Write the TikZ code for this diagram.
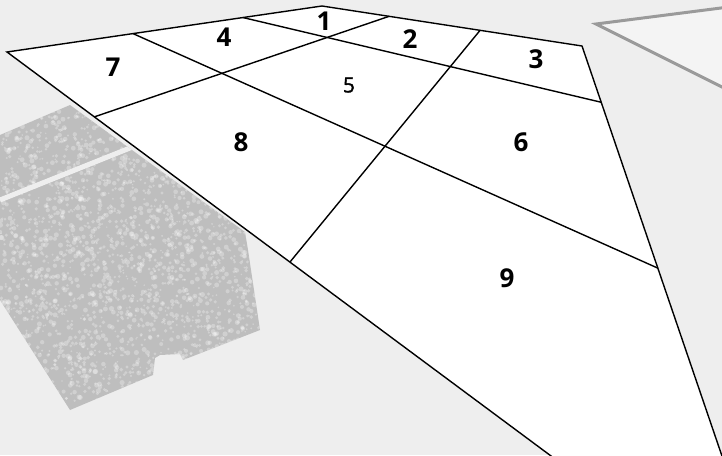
\documentclass[tikz,border=0pt]{standalone}
\usepackage{fontspec}
\setmainfont{Open Sans}
\newfontfamily\midfont[FakeBold=1.5]{Open Sans}
\usetikzlibrary{calc}
\definecolor{bgcolor}{HTML}{EEEEEE}
\definecolor{blobgray}{HTML}{BEBEBE}
\definecolor{rimgray}{HTML}{9A9A9A}
\definecolor{paleface}{HTML}{F4F4F4}
\tikzset{
  grid line/.style={line width=1.4pt, draw=black},
  cell label/.style={font=\bfseries\fontsize{26}{26}\selectfont, inner sep=0pt},
  small label/.style={font=\midfont\fontsize{21}{21}\selectfont, inner sep=0pt},
  speck/.style={fill=white, opacity=0.28},
}

\begin{document}
\begin{tikzpicture}[x=1pt,y=-1pt]
  % Background
  \fill[bgcolor] (0,0) rectangle (722,455);
  \useasboundingbox (0,0) rectangle (722,455);
  \clip (0,0) rectangle (722,455);

  % Pale plane at top right
  \fill[paleface] (596,24) -- (760,3) -- (760,106) -- cycle;
  \draw[rimgray, line width=3pt, line join=miter] (760,3) -- (596,24) -- (760,106);

  % Textured block at left
  \begin{scope}
    \clip (0,135) -- (70,105) -- (245,232) -- (248,250) -- (260,330) -- (183,360)
      -- (180,354) -- (160,355) -- (155,358) -- (153,375) -- (70,410) -- (0,300) -- cycle;
    \fill[blobgray] (0,100) rectangle (270,415);
    \pgfmathsetseed{7}
    \foreach \i in {1,...,3000} {
      \pgfmathsetmacro{\r}{0.8+1.8*rnd}
      \fill[speck] (130+130*rand, 260+155*rand) circle[radius=\r pt];
    }
    % light strip
    \draw[bgcolor, line width=5pt] (0,200) -- (140,144);
  \end{scope}

  % Outline of the grid
  \coordinate (TL) at (7,52);
  \coordinate (A) at (322,6);
  \coordinate (TR) at (582,46);
  \coordinate (B) at (780,626);
  \filldraw[grid line, fill=white, line join=miter] (TL) -- (A) -- (TR) -- (B) -- cycle;

  % Division points on the edges
  \coordinate (p1) at ($(TL)!0.4!(A)$);
  \coordinate (p2) at ($(TL)!0.749!(A)$);
  \coordinate (q1) at ($(A)!0.258!(TR)$);
  \coordinate (q2) at ($(A)!0.608!(TR)$);
  \coordinate (r1) at ($(TR)!0.097!(B)$);
  \coordinate (r2) at ($(TR)!0.383!(B)$);
  \coordinate (l1) at ($(TL)!0.113!(B)$);
  \coordinate (l2) at ($(TL)!0.366!(B)$);

  % Grid lines
  \draw[grid line] (p1) -- (r2);
  \draw[grid line] (p2) -- (r1);
  \draw[grid line] (q1) -- (l1);
  \draw[grid line] (q2) -- (l2);

  % Cell labels
  \foreach \n/\x/\y in {1/324/21, 2/410/39, 3/536/59, 4/224/37,
                        6/521/142, 7/113/67, 8/241/142, 9/507/278}
    \node[cell label] (c\n) at (\x,\y) {\n};
  \node[small label] (c5) at (349,85) {5};
\end{tikzpicture}
\end{document}
